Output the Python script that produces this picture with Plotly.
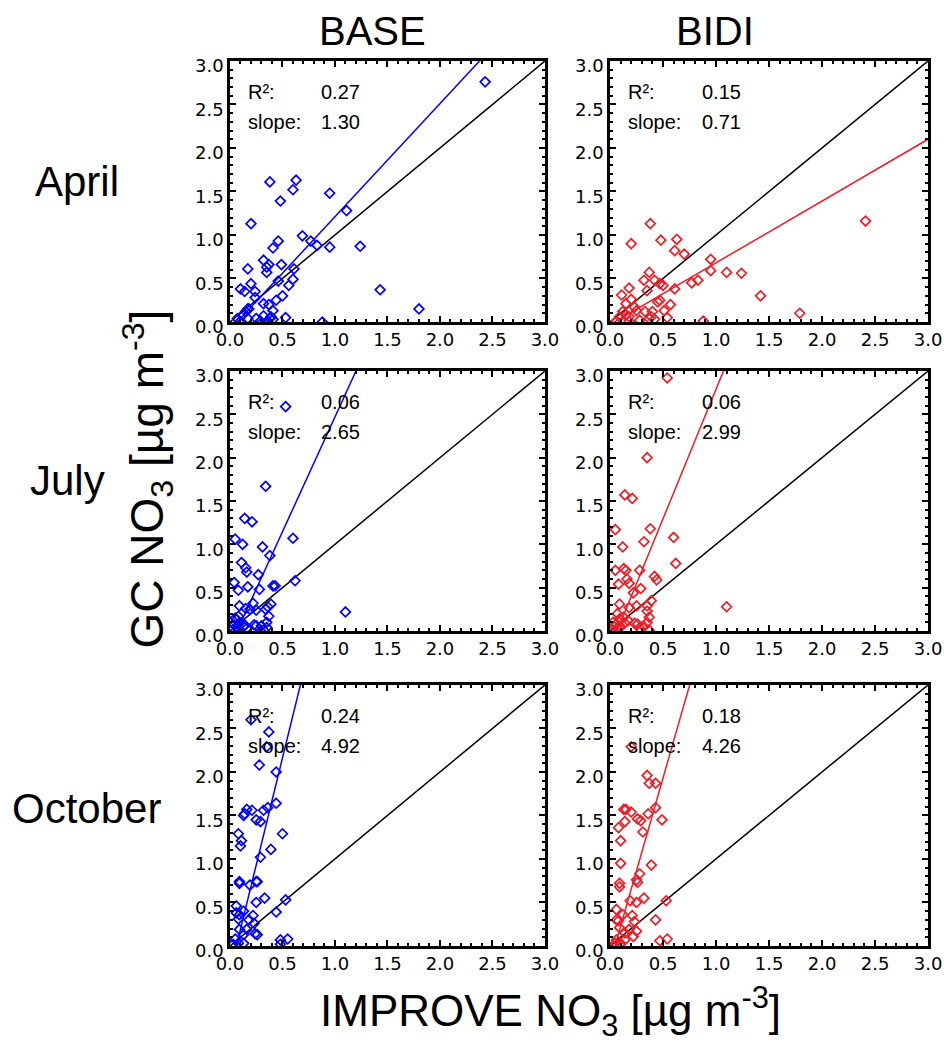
"""GC vs IMPROVE nitrate scatter: BASE / BIDI columns, April / July / October rows"""
import plotly.graph_objects as go

BLUE = "#0000ff"
RED = "#ee1c25"
TICK_FONT = "DejaVu Sans"
TEXT_FONT = "Liberation Sans, Arial, sans-serif"

# ---- data (IMPROVE obs x, GC model y) ----
apr_base_x = [2.43, 0.38, 0.63, 0.60, 0.95, 0.48, 1.11, 0.20, 0.69, 0.77, 0.83, 0.95, 1.24, 0.46,
              0.41, 0.32, 0.37, 0.35, 0.35, 0.49, 0.17, 0.61, 0.46, 0.60, 0.56, 0.20, 0.10, 0.14,
              0.24, 0.24, 0.50, 0.44, 0.37, 0.32, 1.43, 1.80, 0.17, 0.15, 0.18, 0.12, 0.41, 0.53,
              0.25, 0.32, 0.38, 0.39, 0.41, 0.17, 0.29, 0.88, 0.09, 0.36, 0.07]
apr_base_y = [2.76, 1.61, 1.63, 1.52, 1.48, 1.39, 1.28, 1.13, 0.99, 0.93, 0.88, 0.86, 0.87, 0.93,
              0.85, 0.71, 0.66, 0.63, 0.57, 0.66, 0.61, 0.61, 0.47, 0.49, 0.42, 0.44, 0.38, 0.35,
              0.35, 0.28, 0.30, 0.25, 0.20, 0.21, 0.37, 0.15, 0.15, 0.12, 0.15, 0.08, 0.13, 0.05,
              0.04, 0.07, 0.04, 0.06, 0.03, 0.04, 0.01, 0.00, 0.00, 0.01, 0.04]

apr_bidi_x = [2.41, 0.38, 0.20, 0.48, 0.63, 0.61, 0.70, 0.95, 0.95, 1.10, 1.24, 0.83, 0.77, 1.42,
              1.79, 0.37, 0.32, 0.42, 0.47, 0.50, 0.35, 0.61, 0.18, 0.11, 0.20, 0.15, 0.23, 0.25,
              0.45, 0.47, 0.57, 0.51, 0.33, 0.40, 0.12, 0.15, 0.18, 0.09, 0.54, 0.37, 0.39, 0.42,
              0.28, 0.88, 0.18, 0.06]
apr_bidi_y = [1.16, 1.13, 0.90, 0.94, 0.95, 0.82, 0.78, 0.72, 0.59, 0.57, 0.56, 0.48, 0.45, 0.30,
              0.10, 0.57, 0.48, 0.48, 0.44, 0.42, 0.36, 0.38, 0.39, 0.31, 0.26, 0.21, 0.17, 0.13,
              0.23, 0.25, 0.20, 0.13, 0.12, 0.12, 0.12, 0.08, 0.06, 0.06, 0.05, 0.04, 0.06, 0.03,
              0.02, 0.01, 0.01, 0.01]

jul_base_x = [0.53, 0.34, 0.14, 0.21, 0.05, 0.60, 0.12, 0.31, 0.38, 0.11, 0.15, 0.16, 0.27, 0.04,
              0.17, 0.08, 0.28, 0.41, 0.43, 0.62, 0.09, 0.15, 0.22, 0.19, 0.25, 0.34, 0.36, 0.39,
              0.37, 1.10, 0.35, 0.30, 0.23, 0.14, 0.35, 0.08, 0.06, 0.04, 0.09, 0.07, 0.13, 0.03,
              0.08, 0.16, 0.32, 0.25, 0.05]
jul_base_y = [2.59, 1.67, 1.30, 1.26, 1.06, 1.07, 1.00, 0.97, 0.87, 0.79, 0.73, 0.68, 0.65, 0.56,
              0.51, 0.47, 0.48, 0.52, 0.52, 0.58, 0.29, 0.26, 0.32, 0.25, 0.24, 0.25, 0.28, 0.31,
              0.17, 0.22, 0.10, 0.06, 0.07, 0.07, 0.04, 0.17, 0.13, 0.07, 0.09, 0.04, 0.05, 0.02,
              0.01, 0.03, 0.01, 0.06, 0.15]

jul_bidi_x = [0.54, 0.35, 0.14, 0.21, 0.05, 0.38, 0.60, 0.32, 0.12, 0.62, 0.05, 0.13, 0.15, 0.28,
              0.16, 0.18, 0.08, 0.42, 0.44, 0.29, 0.22, 1.10, 0.09, 0.18, 0.25, 0.35, 0.39, 0.35,
              0.37, 0.35, 0.23, 0.26, 0.14, 0.32, 0.07, 0.09, 0.06, 0.10, 0.08, 0.04, 0.13, 0.17,
              0.28, 0.37, 0.03]
jul_bidi_y = [2.92, 2.00, 1.57, 1.53, 1.17, 1.18, 1.08, 1.03, 0.97, 0.78, 0.70, 0.72, 0.70, 0.70,
              0.60, 0.55, 0.54, 0.63, 0.59, 0.49, 0.44, 0.28, 0.31, 0.27, 0.29, 0.29, 0.35, 0.23,
              0.16, 0.10, 0.09, 0.08, 0.09, 0.05, 0.20, 0.14, 0.08, 0.05, 0.02, 0.05, 0.16, 0.12,
              0.03, 0.01, 0.10]

oct_base_x = [0.20, 0.37, 0.35, 0.28, 0.44, 0.16, 0.13, 0.14, 0.21, 0.32, 0.36, 0.44, 0.25, 0.29,
              0.08, 0.50, 0.11, 0.10, 0.39, 0.29, 0.09, 0.09, 0.25, 0.26, 0.19, 0.33, 0.25, 0.53,
              0.44, 0.06, 0.06, 0.08, 0.09, 0.13, 0.18, 0.22, 0.23, 0.09, 0.16, 0.13, 0.24, 0.26,
              0.48, 0.55, 0.05, 0.08, 0.13, 0.03, 0.48]
oct_base_y = [2.60, 2.46, 2.29, 2.08, 2.00, 1.57, 1.50, 1.52, 1.56, 1.56, 1.59, 1.64, 1.45, 1.43,
              1.29, 1.29, 1.21, 1.15, 1.11, 1.02, 0.74, 0.72, 0.74, 0.74, 0.70, 0.55, 0.50, 0.53,
              0.39, 0.46, 0.38, 0.31, 0.36, 0.40, 0.30, 0.35, 0.26, 0.19, 0.19, 0.13, 0.14, 0.13,
              0.07, 0.08, 0.08, 0.03, 0.03, 0.02, 0.02]

oct_bidi_x = [0.20, 0.35, 0.37, 0.43, 0.43, 0.36, 0.13, 0.15, 0.20, 0.26, 0.29, 0.49, 0.14, 0.08,
              0.31, 0.10, 0.10, 0.39, 0.28, 0.25, 0.26, 0.09, 0.09, 0.19, 0.32, 0.25, 0.53, 0.06,
              0.12, 0.21, 0.06, 0.08, 0.43, 0.23, 0.09, 0.18, 0.14, 0.25, 0.22, 0.47, 0.54, 0.06,
              0.10, 0.05, 0.14]
oct_bidi_y = [2.29, 1.96, 1.87, 1.87, 1.59, 1.52, 1.57, 1.57, 1.54, 1.46, 1.44, 1.45, 1.43, 1.36,
              1.31, 1.21, 0.95, 0.93, 0.83, 0.76, 0.73, 0.72, 0.68, 0.52, 0.55, 0.50, 0.52, 0.42,
              0.36, 0.35, 0.30, 0.29, 0.30, 0.28, 0.21, 0.19, 0.15, 0.17, 0.11, 0.06, 0.08, 0.07,
              0.03, 0.03, 0.07]

months = ["April", "July", "October"]
runs = ["BASE", "BIDI"]
panel_x = [[apr_base_x, apr_bidi_x], [jul_base_x, jul_bidi_x], [oct_base_x, oct_bidi_x]]
panel_y = [[apr_base_y, apr_bidi_y], [jul_base_y, jul_bidi_y], [oct_base_y, oct_bidi_y]]
r2 = [[0.27, 0.15], [0.06, 0.06], [0.24, 0.18]]
slope = [[1.30, 0.71], [2.65, 2.99], [4.92, 4.26]]
intercept = [[-0.09, -0.03], [-0.18, -0.20], [-0.30, -0.20]]

AX_RANGE = [0.0, 3.0]
tick_vals = [0.0, 0.5, 1.0, 1.5, 2.0, 2.5, 3.0]

# panel placement (paper fractions)
col_x = [[0.2436, 0.5773], [0.6462, 0.9831]]
row_y = [[0.6916, 0.9416], [0.3956, 0.6446], [0.0939, 0.3439]]

fig = go.Figure()
layout_axes = {}
annotations = []

for r in range(3):
    for c in range(2):
        n = r * 2 + c + 1
        xa = "x" if n == 1 else f"x{n}"
        ya = "y" if n == 1 else f"y{n}"
        color = BLUE if c == 0 else RED

        # 1:1 line
        fig.add_trace(go.Scatter(x=AX_RANGE, y=AX_RANGE, mode="lines",
                                 line=dict(color="black", width=1.5),
                                 xaxis=xa, yaxis=ya, showlegend=False, hoverinfo="skip"))
        # regression line
        fx = AX_RANGE
        fy = [slope[r][c] * v + intercept[r][c] for v in fx]
        fig.add_trace(go.Scatter(x=fx, y=fy, mode="lines",
                                 line=dict(color=color, width=1.5),
                                 xaxis=xa, yaxis=ya, showlegend=False, hoverinfo="skip"))
        # obs vs model
        fig.add_trace(go.Scatter(x=panel_x[r][c], y=panel_y[r][c], mode="markers",
                                 marker=dict(symbol="diamond-open", size=7.5, color=color,
                                             line=dict(width=1.7, color=color)),
                                 xaxis=xa, yaxis=ya, showlegend=False))

        common = dict(
            range=AX_RANGE, tickvals=tick_vals, tickformat=".1f",
            showline=True, linecolor="black", linewidth=2.5, mirror="ticks",
            ticks="inside", ticklen=6, tickwidth=2, tickcolor="black",
            minor=dict(dtick=0.1, ticks="inside", ticklen=3, tickwidth=1.5, tickcolor="black"),
            showgrid=False, zeroline=False,
            tickfont=dict(family=TICK_FONT, size=18, color="black"),
        )
        xkey = "xaxis" if n == 1 else f"xaxis{n}"
        ykey = "yaxis" if n == 1 else f"yaxis{n}"
        layout_axes[xkey] = dict(common, domain=col_x[c], anchor=ya)
        layout_axes[ykey] = dict(common, domain=row_y[r], anchor=xa, ticklabelshift=5)

        # stats text in upper left
        for label, val, yy in [("R²:", r2[r][c], 0.88), ("slope:", slope[r][c], 0.765)]:
            annotations.append(dict(text=label, x=0.05, y=yy, xref=f"{xa} domain", yref=f"{ya} domain",
                                    xanchor="left", yanchor="middle", showarrow=False,
                                    font=dict(family=TEXT_FONT, size=20, color="black")))
            annotations.append(dict(text=f"{val:.2f}", x=0.283, y=yy, xref=f"{xa} domain",
                                    yref=f"{ya} domain", xanchor="left", yanchor="middle",
                                    showarrow=False,
                                    font=dict(family=TEXT_FONT, size=20, color="black")))

big = dict(family=TEXT_FONT, size=40, color="black")
for name, xc in zip(runs, [0.395, 0.757]):
    annotations.append(dict(text=name, x=xc, y=0.970, xref="paper", yref="paper",
                            xanchor="center", yanchor="middle", showarrow=False, font=big))
for name, xc, yc in zip(months, [0.082, 0.071, 0.092], [0.826, 0.540, 0.226]):
    annotations.append(dict(text=name, x=xc, y=yc, xref="paper", yref="paper",
                            xanchor="center", yanchor="middle", showarrow=False,
                            font=dict(family=TEXT_FONT, size=42, color="black")))

annotations.append(dict(text="IMPROVE NO<sub>3</sub> [µg m<sup>-3</sup>]", x=0.583, y=0.031,
                        xref="paper", yref="paper", xanchor="center", yanchor="middle",
                        showarrow=False, font=dict(family=TEXT_FONT, size=44, color="black")))
annotations.append(dict(text="GC NO<sub>3</sub> [µg m<sup>-3</sup>]", x=0.156, y=0.541,
                        xref="paper", yref="paper", xanchor="center", yanchor="middle",
                        textangle=-90, showarrow=False,
                        font=dict(family=TEXT_FONT, size=46, color="black")))

fig.update_layout(
    **layout_axes,
    annotations=annotations,
    autosize=True,
    margin=dict(l=0, r=0, t=0, b=0, autoexpand=False),
    paper_bgcolor="white", plot_bgcolor="white",
    font=dict(family=TEXT_FONT, color="black"),
)

# figure fills the browser window exactly (no page margin, no scrollbars)
fig.write_html(
    "out.html",
    config={"displayModeBar": False},
    default_width="100vw",
    default_height="100vh",
    post_script=(
        "document.body.style.margin='0';"
        "document.body.style.overflow='hidden';"
        "Plotly.Plots.resize(document.getElementById('{plot_id}'));"
    ),
)
